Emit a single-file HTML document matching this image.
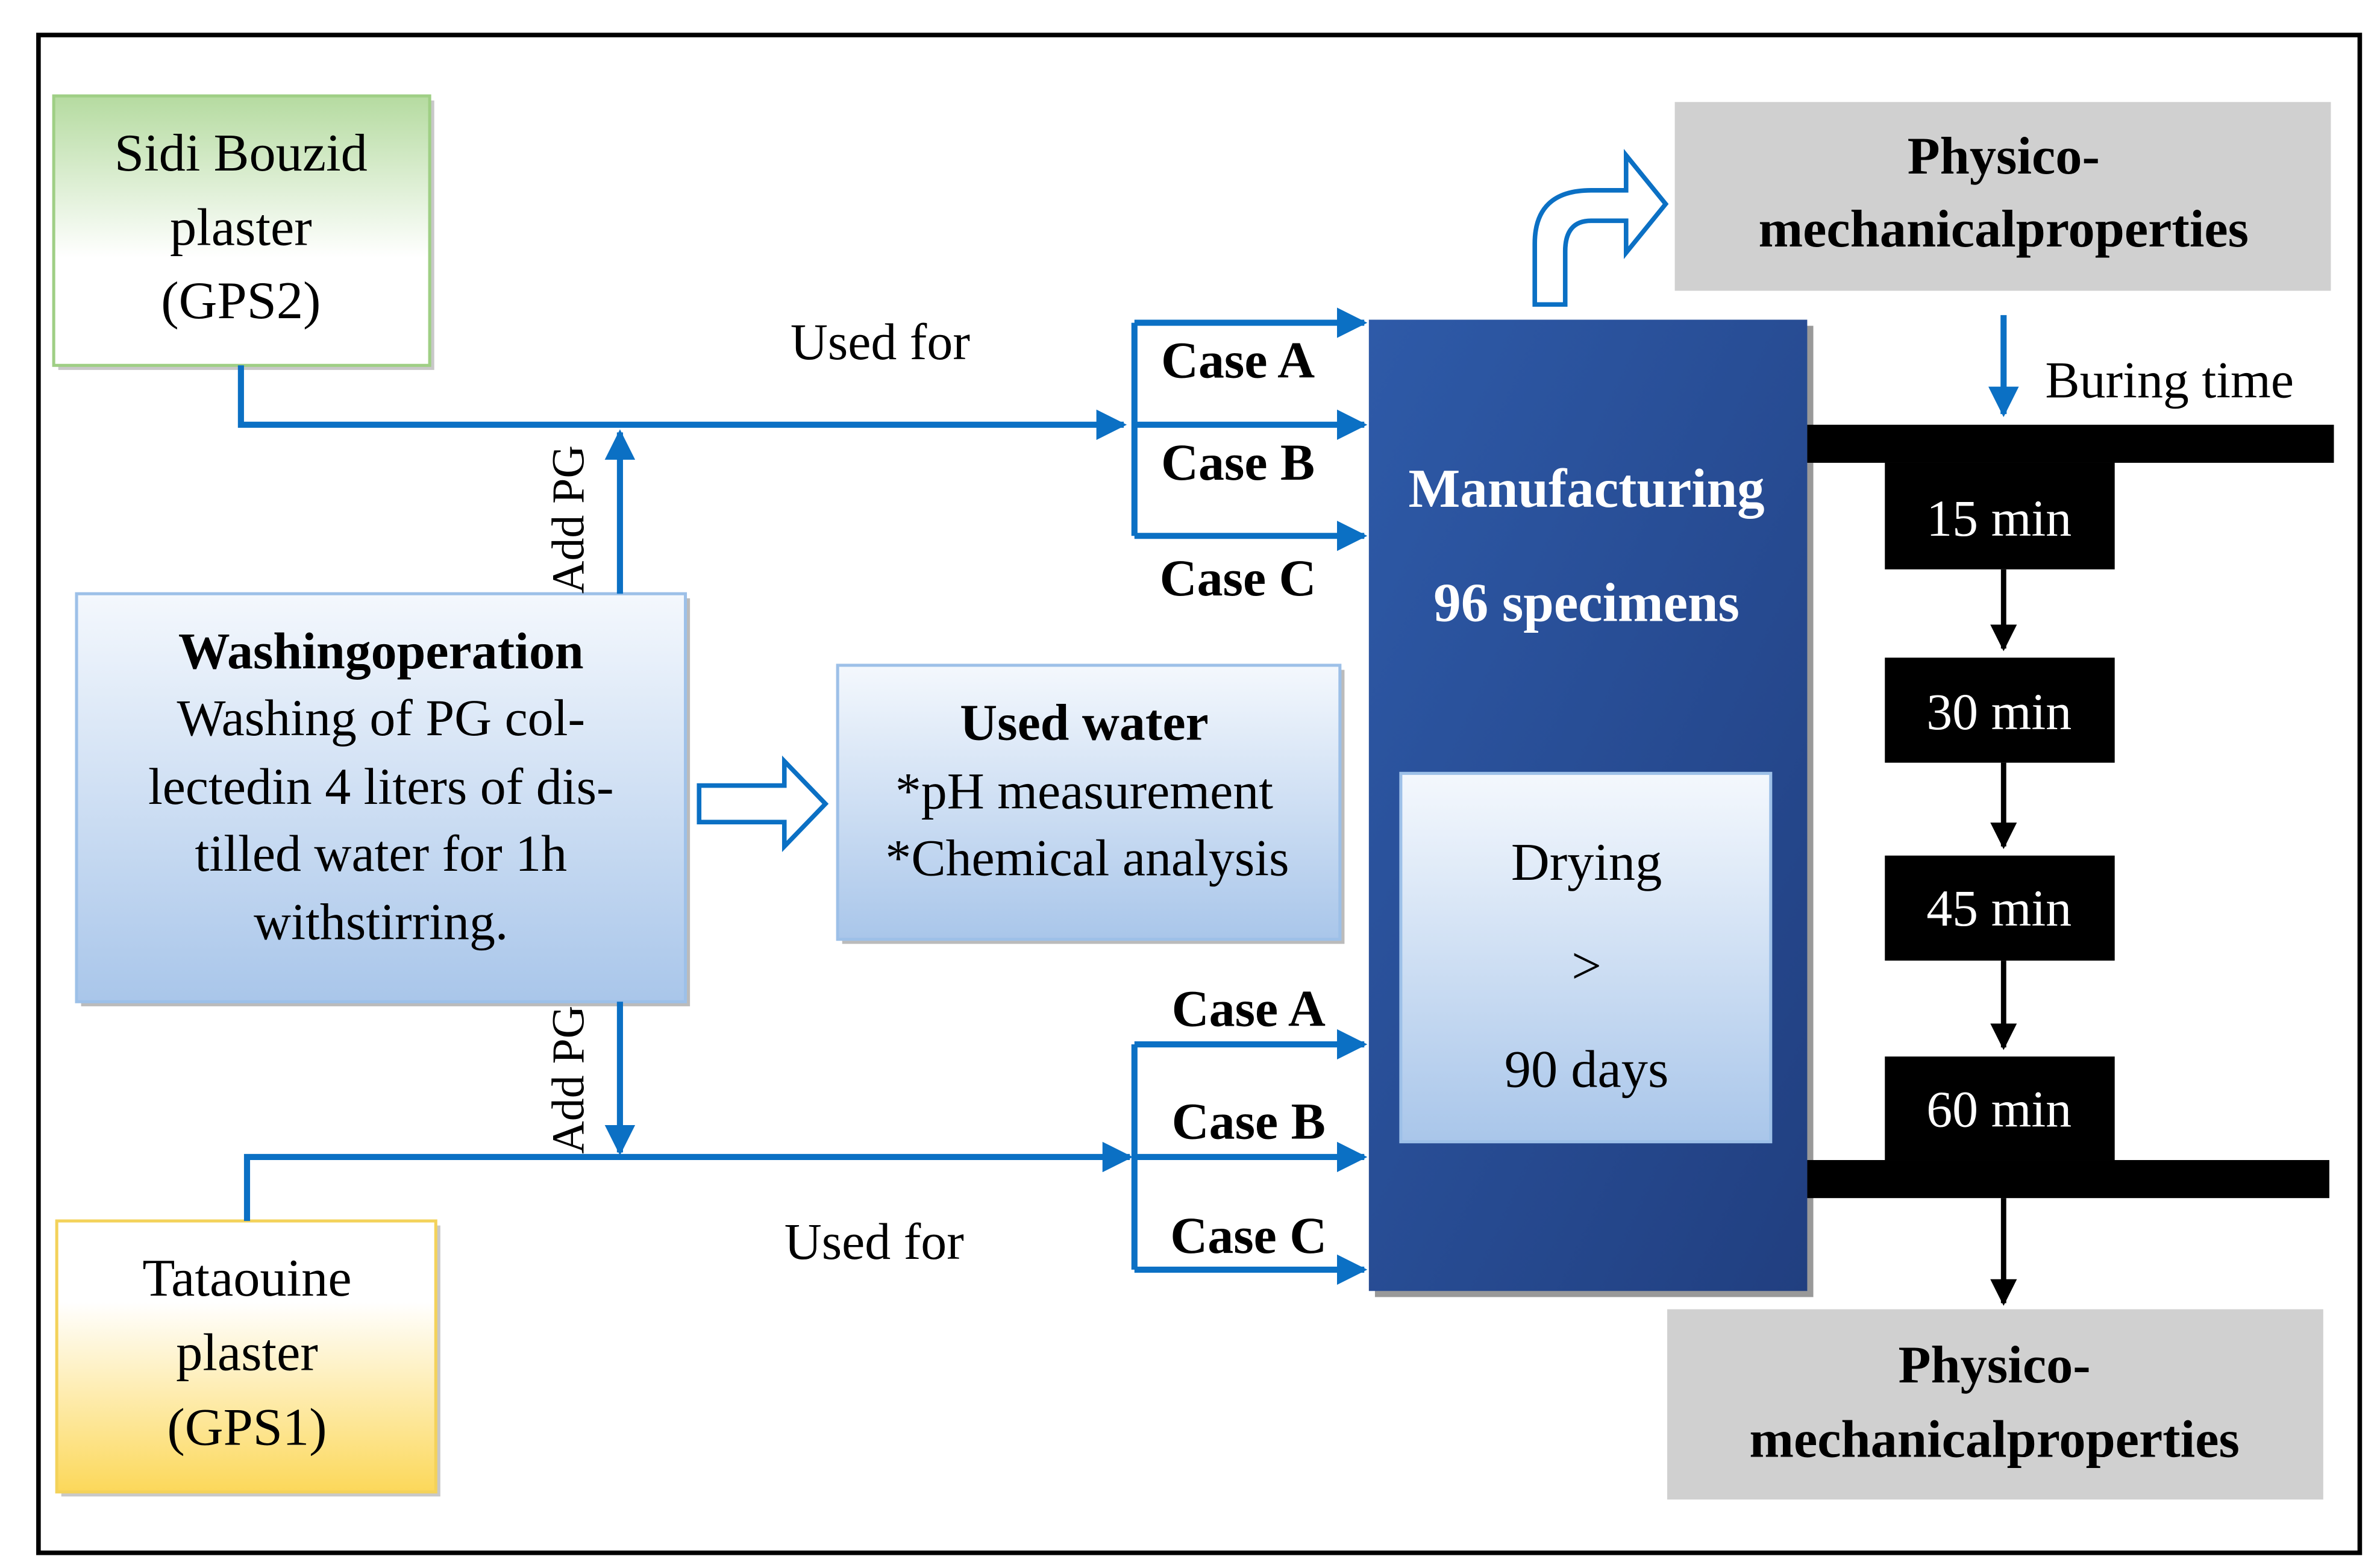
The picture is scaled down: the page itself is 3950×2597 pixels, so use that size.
<!DOCTYPE html>
<html><head><meta charset="utf-8"><style>
html,body{margin:0;padding:0;background:#fff;}
svg{display:block;}
text{font-family:"Liberation Serif",serif;}
</style></head><body>
<svg width="3950" height="2597" viewBox="0 0 1563 1028" xmlns="http://www.w3.org/2000/svg">
<defs>
<linearGradient id="g" x1="0" y1="0" x2="0" y2="1"><stop offset="0" stop-color="#b5dba0"/><stop offset="0.6" stop-color="#ffffff"/></linearGradient>
<linearGradient id="y" x1="0" y1="1" x2="0" y2="0"><stop offset="0" stop-color="#fcd85a"/><stop offset="0.7" stop-color="#ffffff"/></linearGradient>
<linearGradient id="lb" x1="0" y1="0" x2="0" y2="1"><stop offset="0" stop-color="#f4f8fd"/><stop offset="1" stop-color="#a9c6ea"/></linearGradient>
<linearGradient id="db" x1="0" y1="0" x2="1" y2="1"><stop offset="0" stop-color="#2e5aa8"/><stop offset="1" stop-color="#213f80"/></linearGradient>
<marker id="ab" viewBox="0 0 10 10" refX="9" refY="5" markerWidth="5" markerHeight="5" orient="auto"><path d="M0,0 L10,5 L0,10 z" fill="#0b70c4"/></marker>
<marker id="ak" viewBox="0 0 10 10" refX="9" refY="5" markerWidth="5" markerHeight="5" orient="auto"><path d="M0,0 L10,5 L0,10 z" fill="#000"/></marker>
</defs>
<rect x="25" y="23" width="1525" height="997" fill="#fff" stroke="#000" stroke-width="3"/>

<rect x="38" y="66" width="247" height="177" fill="#c8c8c8"/>
<rect x="35" y="63" width="247" height="177" fill="url(#g)" stroke="#9fcf85" stroke-width="2"/>
<g font-size="35" text-anchor="middle" fill="#000">
<text x="158" y="112">Sidi Bouzid</text><text x="158" y="161">plaster</text><text x="158" y="209">(GPS2)</text>
</g>
<rect x="40" y="805" width="249" height="178" fill="#c8c8c8"/>
<rect x="37" y="802" width="249" height="178" fill="url(#y)" stroke="#f3d25a" stroke-width="2"/>
<g font-size="35" text-anchor="middle"><text x="162" y="851">Tataouine</text><text x="162" y="900">plaster</text><text x="162" y="949">(GPS1)</text></g>

<rect x="53" y="393" width="400" height="268" fill="#bbbbbb"/>
<rect x="50" y="390" width="400" height="268" fill="url(#lb)" stroke="#9dc0e8" stroke-width="2"/>
<g font-size="34" text-anchor="middle"><text x="250" y="439" font-weight="bold">Washingoperation</text><text x="250" y="483">Washing of PG col-</text><text x="250" y="528">lectedin 4 liters of dis-</text><text x="250" y="572">tilled water for 1h</text><text x="250" y="617">withstirring.</text></g>

<rect x="553" y="440" width="330" height="180" fill="#bbbbbb"/>
<rect x="550" y="437" width="330" height="180" fill="url(#lb)" stroke="#9dc0e8" stroke-width="2"/>
<g font-size="34" text-anchor="middle"><text x="712" y="486" font-weight="bold">Used water</text><text x="712" y="531">*pH measurement</text><text x="714" y="575">*Chemical analysis</text></g>
<path d="M459,516 L515,516 L515,500 L542,528 L515,556 L515,540 L459,540 z" fill="#fff" stroke="#0b70c4" stroke-width="3"/>

<rect x="903" y="214" width="288" height="638" fill="#999"/>
<rect x="899" y="210" width="288" height="638" fill="url(#db)"/>
<g font-size="36" text-anchor="middle" fill="#fff" font-weight="bold"><text x="1042" y="333">Manufacturing</text><text x="1042" y="408">96 specimens</text></g>
<rect x="920" y="508" width="243" height="242" fill="url(#lb)" stroke="#9dc0e8" stroke-width="2"/>
<g font-size="35" text-anchor="middle"><text x="1042" y="578">Drying</text><text x="1042" y="646">&gt;</text><text x="1042" y="714">90 days</text></g>

<g stroke="#0b70c4" stroke-width="4" fill="none">
<path d="M158,240 L158,279 L738,279" marker-end="url(#ab)"/>
<path d="M407,390 L407,284" marker-end="url(#ab)"/>
<path d="M745,212 L745,352"/>
<path d="M745,212 L896,212" marker-end="url(#ab)"/>
<path d="M745,279 L896,279" marker-end="url(#ab)"/>
<path d="M745,352 L896,352" marker-end="url(#ab)"/>
<path d="M407,658 L407,757" marker-end="url(#ab)"/>
<path d="M162,802 L162,760 L742,760" marker-end="url(#ab)"/>
<path d="M745,686 L745,834"/>
<path d="M745,686 L896,686" marker-end="url(#ab)"/>
<path d="M745,760 L896,760" marker-end="url(#ab)"/>
<path d="M745,834 L896,834" marker-end="url(#ab)"/>
<path d="M1316,207 L1316,272" marker-end="url(#ab)"/>
</g>
<g font-size="34"><text x="578" y="236" text-anchor="middle">Used for</text><text x="574" y="827" text-anchor="middle">Used for</text></g>
<text font-size="30" transform="translate(383,390) rotate(-90)">Add PG</text>
<text font-size="30" transform="translate(383,758) rotate(-90)">Add PG</text>
<g font-size="34" font-weight="bold" text-anchor="middle">
<text x="813" y="248">Case A</text><text x="813" y="315">Case B</text><text x="813" y="391">Case C</text>
<text x="820" y="674">Case A</text><text x="820" y="748">Case B</text><text x="820" y="823">Case C</text>
</g>

<path d="M1008,200 L1008,160 Q1008,125 1045,125 L1068,125 L1068,102 L1094,134 L1068,166 L1068,145 L1045,145 Q1028,145 1028,165 L1028,200 z" fill="#fff" stroke="#0b70c4" stroke-width="3"/>

<rect x="1100" y="67" width="431" height="124" fill="#d0d0d0"/>
<g font-size="35" font-weight="bold" text-anchor="middle"><text x="1316" y="114">Physico-</text><text x="1316" y="162">mechanicalproperties</text></g>
<rect x="1095" y="860" width="431" height="125" fill="#d0d0d0"/>
<g font-size="35" font-weight="bold" text-anchor="middle"><text x="1310" y="908">Physico-</text><text x="1310" y="957">mechanicalproperties</text></g>
<text x="1425" y="261" font-size="34" text-anchor="middle">Buring time</text>

<rect x="1187" y="279" width="346" height="25" fill="#000"/>
<rect x="1187" y="762" width="343" height="25" fill="#000"/>
<rect x="1238" y="304" width="151" height="70" fill="#000"/>
<rect x="1238" y="432" width="151" height="69" fill="#000"/>
<rect x="1238" y="562" width="151" height="69" fill="#000"/>
<rect x="1238" y="694" width="151" height="68" fill="#000"/>
<g font-size="34" fill="#fff" text-anchor="middle"><text x="1313" y="352">15 min</text><text x="1313" y="479">30 min</text><text x="1313" y="608">45 min</text><text x="1313" y="740">60 min</text></g>
<g stroke="#000" stroke-width="3.5">
<path d="M1316,374 L1316,426" marker-end="url(#ak)"/>
<path d="M1316,501 L1316,556" marker-end="url(#ak)"/>
<path d="M1316,631 L1316,688" marker-end="url(#ak)"/>
<path d="M1316,787 L1316,856" marker-end="url(#ak)"/>
</g>
</svg>
</body></html>
